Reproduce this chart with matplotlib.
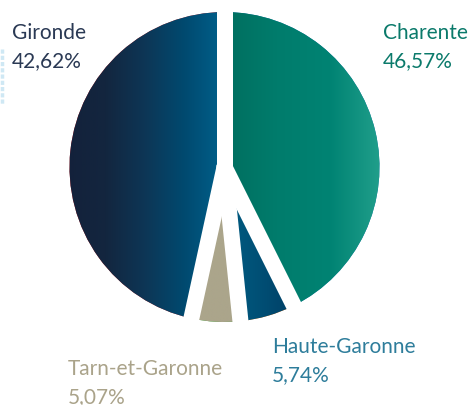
import numpy as np
import matplotlib
matplotlib.use("Agg")
import matplotlib.pyplot as plt
from matplotlib.colors import LinearSegmentedColormap

plt.rcParams['font.family'] = ['Lato', 'DejaVu Sans']

# labels as printed on the chart
regions = ["Charente", "Haute-Garonne", "Tarn-et-Garonne", "Gironde"]
label_shares = [46.57, 5.74, 5.07, 42.62]
# wedge sizes as drawn (clockwise from 12 o'clock); the two big wedges
# in the source picture are sized the other way round from their labels
wedge_shares = [42.62, 5.74, 5.07, 46.57]

text_colors = ['#0b7a6b', '#2e7d9b', '#aaa38a', '#2a3954']
fills = [
    ['#006e5f', '#007c6c', '#008373', '#22a08c'],
    ['#005d82', '#004f75', '#003f66'],
    ['#aba58b', '#aba58b'],
    ['#13213b', '#13263f', '#0d3656', '#004a70', '#00618c'],
]

W, H = 471, 406
fig = plt.figure(figsize=(W / 100, H / 100), dpi=100)
ax = fig.add_axes([0, 0, 1, 1])

cx, cy = 224.5, H - 168
R = 155
wedges, _ = ax.pie(wedge_shares, startangle=90, counterclock=False,
                   center=(cx, cy), radius=R,
                   wedgeprops=dict(linewidth=0))

# horizontal gradient inside each wedge
grad = np.linspace(0, 1, 256)[None, :]
for w, stops in zip(wedges, fills):
    cmap = LinearSegmentedColormap.from_list('g', stops)
    v = w.get_path().vertices
    x0, x1 = v[:, 0].min(), v[:, 0].max()
    y0, y1 = v[:, 1].min(), v[:, 1].max()
    im = ax.imshow(grad, cmap=cmap, extent=(x0, x1, y0, y1),
                   aspect='auto', origin='lower', zorder=2)
    im.set_clip_path(w)

# white gaps between wedges
gap = 16 * 72 / 100
cum = np.concatenate([[0], np.cumsum(wedge_shares)[:-1]])
for c in cum:
    a = np.deg2rad(90 - c * 3.6)
    ax.plot([cx, cx + (R + 20) * np.cos(a)], [cy, cy + (R + 20) * np.sin(a)],
            color='white', lw=gap, solid_capstyle='round', zorder=3)

# labels: (x, baseline of name) in pixels from top-left
label_pos = {
    "Charente": (383, 39),
    "Haute-Garonne": (272, 353),
    "Tarn-et-Garonne": (68, 375),
    "Gironde": (12, 39),
}
for name, val, col in zip(regions, label_shares, text_colors):
    x, yb = label_pos[name]
    ax.text(x, H - yb, name, color=col, fontsize=15, va='baseline', ha='left', zorder=4)
    ax.text(x, H - yb - 28.5, f"{val:.2f}".replace('.', ',') + '%', color=col,
            fontsize=15, va='baseline', ha='left', zorder=4)

# faint cut-off element at the left edge
ax.plot([1.5, 1.5], [H - 50, H - 105], color='#cfe8f4', lw=2.5, ls=(0, (1.2, 0.6)))

ax.set_xlim(0, W)
ax.set_ylim(0, H)
ax.set_aspect('auto')
ax.axis('off')
fig.savefig('out.png', dpi=100)
